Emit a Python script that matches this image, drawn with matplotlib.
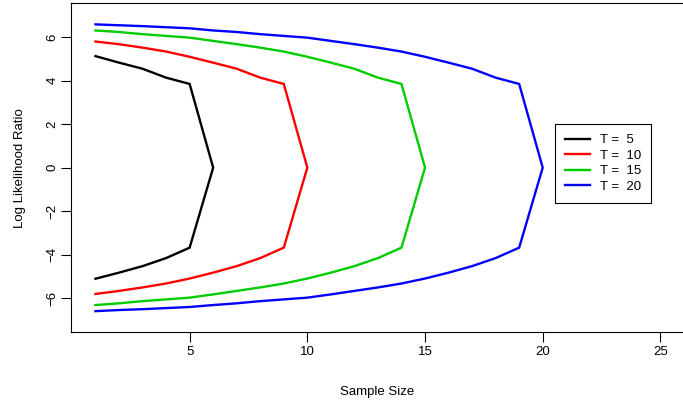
import numpy as np
import matplotlib
matplotlib.use("Agg")
import matplotlib.pyplot as plt

plt.rcParams["font.family"] = ["Liberation Sans", "DejaVu Sans"]

# log likelihood ratio per sample size, upper and lower branch, one set per T
sizes_5 = [1, 2, 3, 4, 5, 6]
upper_5 = [5.13, 4.83, 4.55, 4.14, 3.85, 0.0]
lower_5 = [-5.11, -4.83, -4.53, -4.16, -3.68, 0.0]

sizes_10 = [1, 2, 3, 4, 5, 6, 7, 8, 9, 10]
upper_10 = [5.80, 5.68, 5.52, 5.34, 5.10, 4.83, 4.55, 4.14, 3.85, 0.0]
lower_10 = [-5.81, -5.67, -5.51, -5.33, -5.10, -4.83, -4.53, -4.16, -3.68, 0.0]

sizes_15 = list(range(1, 16))
upper_15 = [6.31, 6.24, 6.14, 6.06, 5.98, 5.83, 5.68, 5.52, 5.34, 5.10,
            4.83, 4.55, 4.14, 3.85, 0.0]
lower_15 = [-6.32, -6.24, -6.14, -6.06, -5.98, -5.83, -5.67, -5.51, -5.33, -5.10,
            -4.83, -4.53, -4.16, -3.68, 0.0]

sizes_20 = list(range(1, 21))
upper_20 = [6.59, 6.55, 6.51, 6.46, 6.41, 6.31, 6.24, 6.14, 6.06, 5.98,
            5.83, 5.68, 5.52, 5.34, 5.10, 4.83, 4.55, 4.14, 3.85, 0.0]
lower_20 = [-6.60, -6.55, -6.51, -6.46, -6.41, -6.32, -6.24, -6.14, -6.06, -5.98,
            -5.83, -5.67, -5.51, -5.33, -5.10, -4.83, -4.53, -4.16, -3.68, 0.0]

labels = ["T =  5", "T =  10", "T =  15", "T =  20"]
colors = ["black", "#FF0000", "#00CD00", "#0000FF"]

series = [(sizes_5, upper_5, lower_5), (sizes_10, upper_10, lower_10),
          (sizes_15, upper_15, lower_15), (sizes_20, upper_20, lower_20)]

fig = plt.figure(figsize=(6.83, 4.03), dpi=100)
ax = fig.add_axes([71 / 683, 71 / 403, 612 / 683, 328.7 / 403])

for (x, up, lo), col, lab in zip(series, colors, labels):
    x = np.array(x)
    xs = np.concatenate([x, x[-2::-1]])
    ys = np.concatenate([up, np.array(lo)[-2::-1]])
    ax.plot(xs, ys, color=col, lw=1.7, label=lab, solid_joinstyle="miter")

ax.set_xlim(-0.04, 25.96)
ax.set_ylim(-7.56, 7.56)
ax.set_xticks([5, 10, 15, 20, 25])
ax.set_yticks([-6, -4, -2, 0, 2, 4, 6])
ax.set_yticklabels(["\u22126", "\u22124", "\u22122", "0", "2", "4", "6"],
                   rotation=90, va="center")
ax.tick_params(direction="out", length=7, width=0.8, labelsize=9.5, pad=3)
ax.tick_params(axis="y", pad=2)
ax.spines["right"].set_visible(False)
for s in ["left", "top", "bottom"]:
    ax.spines[s].set_linewidth(0.8)

ax.set_xlabel("Sample Size", fontsize=9.5, labelpad=20)
ax.set_ylabel("Log Likelihood Ratio", fontsize=9.5, labelpad=15)

leg = ax.legend(loc="upper left", bbox_to_anchor=(555 / 683, 1 - 124 / 403),
                bbox_transform=fig.transFigure, fancybox=False, framealpha=1,
                edgecolor="black", fontsize=9.5, handlelength=1.9,
                handletextpad=0.75, labelspacing=0.25, borderpad=0.75,
                borderaxespad=0)
leg.get_frame().set_linewidth(0.8)

fig.savefig("out.png", dpi=100)
